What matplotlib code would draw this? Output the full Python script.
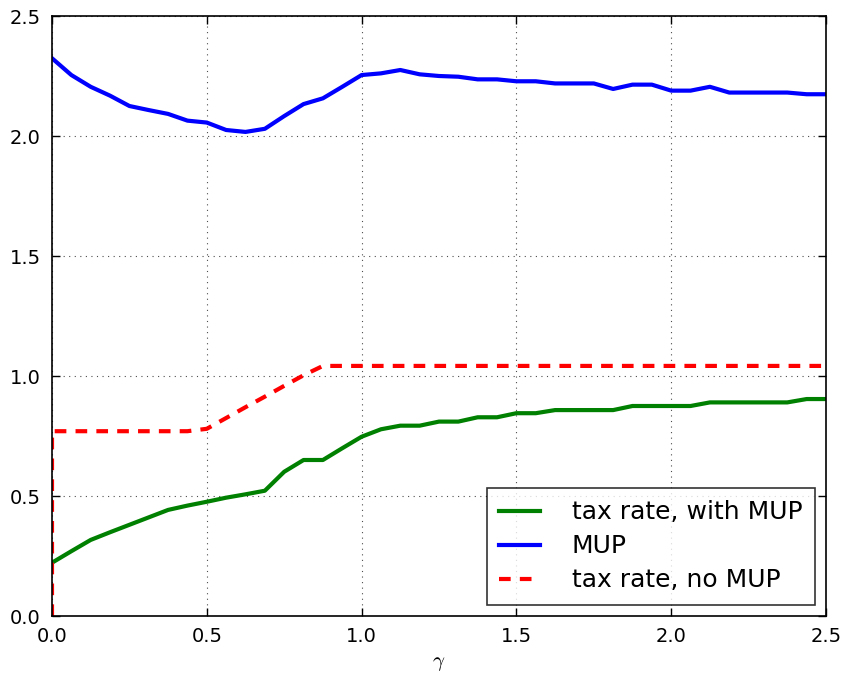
import matplotlib
matplotlib.use("Agg")
import matplotlib.pyplot as plt
import numpy as np

plt.rcParams['mathtext.fontset'] = 'cm'
plt.rcParams['font.family'] = ['DejaVu Sans']

gamma = [0.0, 0.0625, 0.125, 0.1875, 0.25, 0.3125, 0.375, 0.4375, 0.5, 0.5625,
         0.625, 0.6875, 0.75, 0.8125, 0.875, 0.9375, 1.0, 1.0625, 1.125, 1.1875,
         1.25, 1.3125, 1.375, 1.4375, 1.5, 1.5625, 1.625, 1.6875, 1.75, 1.8125,
         1.875, 1.9375, 2.0, 2.0625, 2.125, 2.1875, 2.25, 2.3125, 2.375, 2.4375, 2.5]

tax_with_mup = [0.222, 0.270, 0.317, 0.349, 0.380, 0.411, 0.442, 0.460, 0.476, 0.493,
                0.507, 0.522, 0.601, 0.650, 0.650, 0.699, 0.747, 0.778, 0.793, 0.793,
                0.810, 0.810, 0.828, 0.828, 0.845, 0.845, 0.858, 0.858, 0.858, 0.858,
                0.875, 0.875, 0.875, 0.875, 0.890, 0.890, 0.890, 0.890, 0.890, 0.904, 0.904]

mup = [2.324, 2.254, 2.205, 2.168, 2.125, 2.108, 2.092, 2.064, 2.056, 2.025,
       2.017, 2.030, 2.083, 2.133, 2.157, 2.205, 2.254, 2.261, 2.275, 2.257,
       2.250, 2.247, 2.236, 2.236, 2.228, 2.228, 2.219, 2.219, 2.219, 2.196,
       2.214, 2.214, 2.189, 2.189, 2.205, 2.181, 2.181, 2.181, 2.181, 2.174, 2.174]

gamma_no_mup = [0.0] + gamma
tax_no_mup = [0.0, 0.770, 0.770, 0.770, 0.770, 0.770, 0.770, 0.770, 0.770, 0.780, 0.825,
              0.870, 0.914, 0.959, 1.003, 1.042, 1.042, 1.042, 1.042, 1.042, 1.042,
              1.042, 1.042, 1.042, 1.042, 1.042, 1.042, 1.042, 1.042, 1.042, 1.042,
              1.042, 1.042, 1.042, 1.042, 1.042, 1.042, 1.042, 1.042, 1.042, 1.042, 1.042]

xticks = [0.0, 0.5, 1.0, 1.5, 2.0, 2.5]
yticks = [0.0, 0.5, 1.0, 1.5, 2.0, 2.5]

fig = plt.figure(figsize=(8.44, 6.79), dpi=100)
ax = fig.add_axes([52/844, 63/679, 774/844, 600/679])

ax.plot(gamma, tax_with_mup, color='green', lw=3, label='tax rate, with MUP')
ax.plot(gamma, mup, color='blue', lw=3, label='MUP')
ax.plot(gamma_no_mup, tax_no_mup, color='red', lw=3, linestyle=(0, (2.8, 2.2)),
        label='tax rate, no MUP')

ax.set_xlim(0, 2.5)
ax.set_ylim(0, 2.5)
ax.set_xticks(xticks)
ax.set_yticks(yticks)
ax.set_xticklabels([f"{t:.1f}" for t in xticks])
ax.set_yticklabels([f"{t:.1f}" for t in yticks])
ax.grid(True, linestyle=(0, (1, 4)), color='black', lw=0.8, alpha=0.7)
ax.tick_params(direction='in', top=True, right=True, length=6, width=1,
               labelsize=14, pad=8)
for s in ax.spines.values():
    s.set_linewidth(1.2)

ax.set_xlabel(r'$\gamma$', fontsize=15, labelpad=5)

leg = ax.legend(loc='lower right', fontsize=18, frameon=True, fancybox=False,
                handlelength=1.65, borderpad=0.5, labelspacing=0.4,
                handletextpad=1.25, borderaxespad=0.45)
leg.get_frame().set_edgecolor('black')
leg.get_frame().set_linewidth(1.2)

fig.savefig('out.png', dpi=100, facecolor='white')
